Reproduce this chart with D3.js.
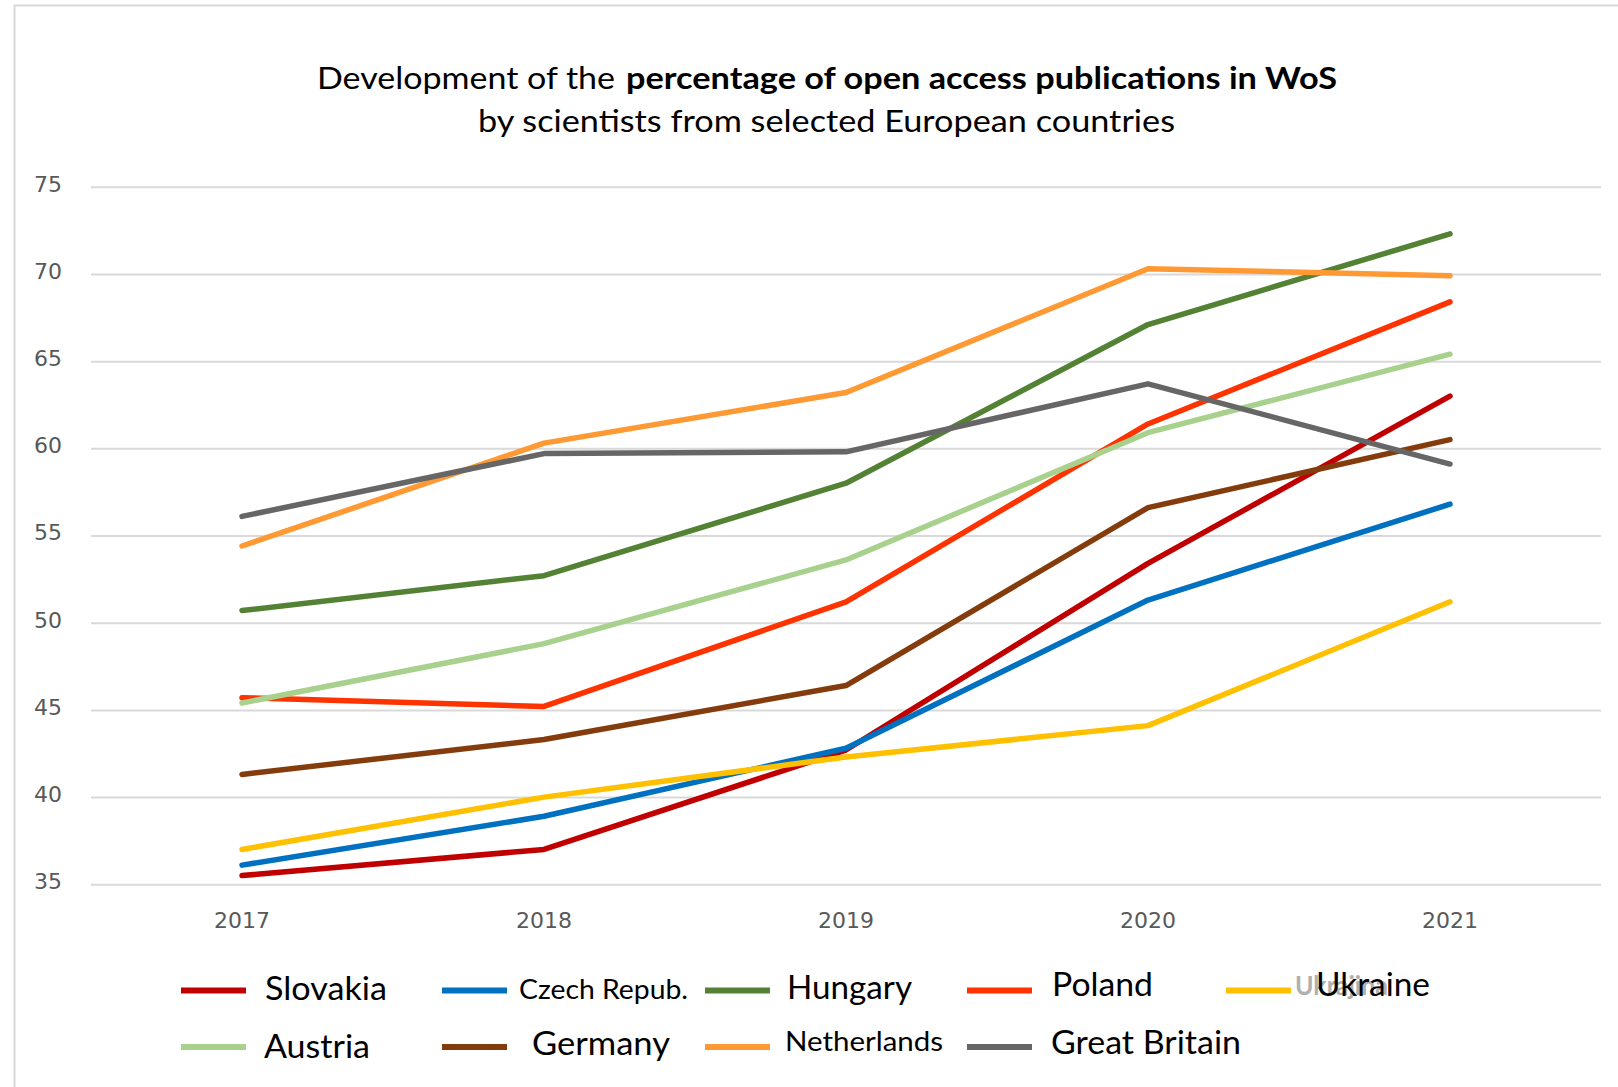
<!DOCTYPE html>
<html><head><meta charset="utf-8">
<script src="https://cdn.jsdelivr.net/npm/d3@7"></script>
<style>html,body{margin:0;padding:0;background:#fff}svg{display:block}</style>
</head><body>
<svg id="chart" width="1618" height="1087"></svg>
<script>
const years = ["2017","2018","2019","2020","2021"];
const countries = ["Slovakia","Czech Repub.","Hungary","Poland","Ukraine","Austria","Germany","Netherlands","Great Britain"];
const slovakia    = [35.5, 37.0, 42.7, 53.4, 63.0];
const czech       = [36.1, 38.9, 42.8, 51.3, 56.8];
const hungary     = [50.7, 52.7, 58.0, 67.1, 72.3];
const poland      = [45.7, 45.2, 51.2, 61.4, 68.4];
const ukraine     = [37.0, 40.0, 42.3, 44.1, 51.2];
const austria     = [45.4, 48.8, 53.6, 60.9, 65.4];
const germany     = [41.3, 43.3, 46.4, 56.6, 60.5];
const netherlands = [54.4, 60.3, 63.2, 70.3, 69.9];
const britain     = [56.1, 59.7, 59.8, 63.7, 59.1];
const yTicks = [35, 40, 45, 50, 55, 60, 65, 70, 75];
const colors = ["#c00000","#0070c0","#548235","#ff3300","#ffc000","#a9d18e","#843c0c","#ff9933","#666666"];

const seriesValues = [slovakia, czech, hungary, poland, ukraine, austria, germany, netherlands, britain];
const series = countries.map((c,i)=>({name:c, values:seriesValues[i], color:colors[i]}));

const svg = d3.select("#chart");
const font = "Lato, 'Open Sans', sans-serif";

// frame
svg.append("path").attr("d","M14.5,1087 L14.5,5.5 L1618,5.5").attr("fill","none").attr("stroke","#d9d9d9").attr("stroke-width",2);

// title
svg.append("text").attr("x",317).attr("y",89).attr("font-family",font).attr("font-size",31).attr("fill","#000")
  .attr("textLength",298).attr("lengthAdjust","spacingAndGlyphs").text("Development of the");
svg.append("text").attr("x",626).attr("y",89).attr("font-family",font).attr("font-size",31).attr("font-weight","bold").attr("fill","#000")
  .attr("textLength",711).attr("lengthAdjust","spacingAndGlyphs").text("percentage of open access publications in WoS");
svg.append("text").attr("x",478).attr("y",132).attr("font-family",font).attr("font-size",31).attr("fill","#000")
  .attr("textLength",697).attr("lengthAdjust","spacingAndGlyphs").text("by scientists from selected European countries");

const x = d3.scaleBand().domain(years).range([91, 1601]);
const y = d3.scaleLinear().domain([35, 75]).range([884.3, 186.8]);

// gridlines
const grid = svg.append("g").attr("transform","translate(91,0)")
  .call(d3.axisLeft(y).tickValues(yTicks).tickSize(-1510).tickFormat(""));
grid.select(".domain").remove();
grid.selectAll(".tick line").attr("stroke","#d9d9d9").attr("stroke-width",2);

// y labels
const yAx = svg.append("g").attr("transform","translate(62,0)")
  .call(d3.axisLeft(y).tickValues(yTicks).tickSize(0).tickPadding(0));
yAx.select(".domain").remove();
yAx.selectAll("text").attr("font-family","'DejaVu Sans', Verdana, sans-serif").attr("font-size",22)
  .attr("fill","#595959").attr("dy","0.2em");

// x labels
const xAx = svg.append("g").attr("transform","translate(0,884.3)")
  .call(d3.axisBottom(x).tickSize(0).tickPadding(28));
xAx.select(".domain").remove();
xAx.selectAll("text").attr("font-family","'DejaVu Sans', Verdana, sans-serif").attr("font-size",22).attr("fill","#595959");

// lines
const line = d3.line().x((d,i)=>x(years[i]) + x.bandwidth()/2).y(d=>y(d));
svg.append("g").selectAll("path").data(series).join("path")
  .attr("d", d=>line(d.values)).attr("fill","none").attr("stroke", d=>d.color)
  .attr("stroke-width",5.5).attr("stroke-linecap","round").attr("stroke-linejoin","round");

// legend
const legendLayout = [
  {sx:181, sy:990.5, tx:265, ty:1000, fs:32, tl:122},
  {sx:442, sy:990.5, tx:519, ty:999, fs:26, tl:169},
  {sx:705, sy:990.5, tx:787, ty:999, fs:32, tl:125},
  {sx:967, sy:990.5, tx:1052, ty:996, fs:32, tl:101},
  {sx:1226, sy:990.5, tx:1316, ty:996, fs:32, tl:114},
  {sx:181, sy:1047, tx:264, ty:1058, fs:32, tl:106},
  {sx:442, sy:1047, tx:532, ty:1055, fs:32, tl:138},
  {sx:705, sy:1047, tx:785, ty:1051, fs:26, tl:158},
  {sx:967, sy:1047, tx:1051, ty:1054, fs:32, tl:190}
];
const leg = svg.append("g");
// faded underlying label behind Ukraine (as in the reference)
leg.append("text").attr("x",1295).attr("y",995).attr("font-family",font).attr("font-size",26).attr("font-weight","bold")
  .attr("fill","#b0b0b0").attr("textLength",93).attr("lengthAdjust","spacingAndGlyphs").text("Ukrajina");
series.forEach((s,i)=>{
  const L = legendLayout[i];
  leg.append("line").attr("x1",L.sx).attr("x2",L.sx+65).attr("y1",L.sy).attr("y2",L.sy)
    .attr("stroke",s.color).attr("stroke-width",6);
  leg.append("text").attr("x",L.tx).attr("y",L.ty).attr("font-family",font).attr("font-size",L.fs).attr("fill","#000")
    .attr("textLength",L.tl).attr("lengthAdjust","spacingAndGlyphs").text(s.name);
});
</script>
</body></html>
